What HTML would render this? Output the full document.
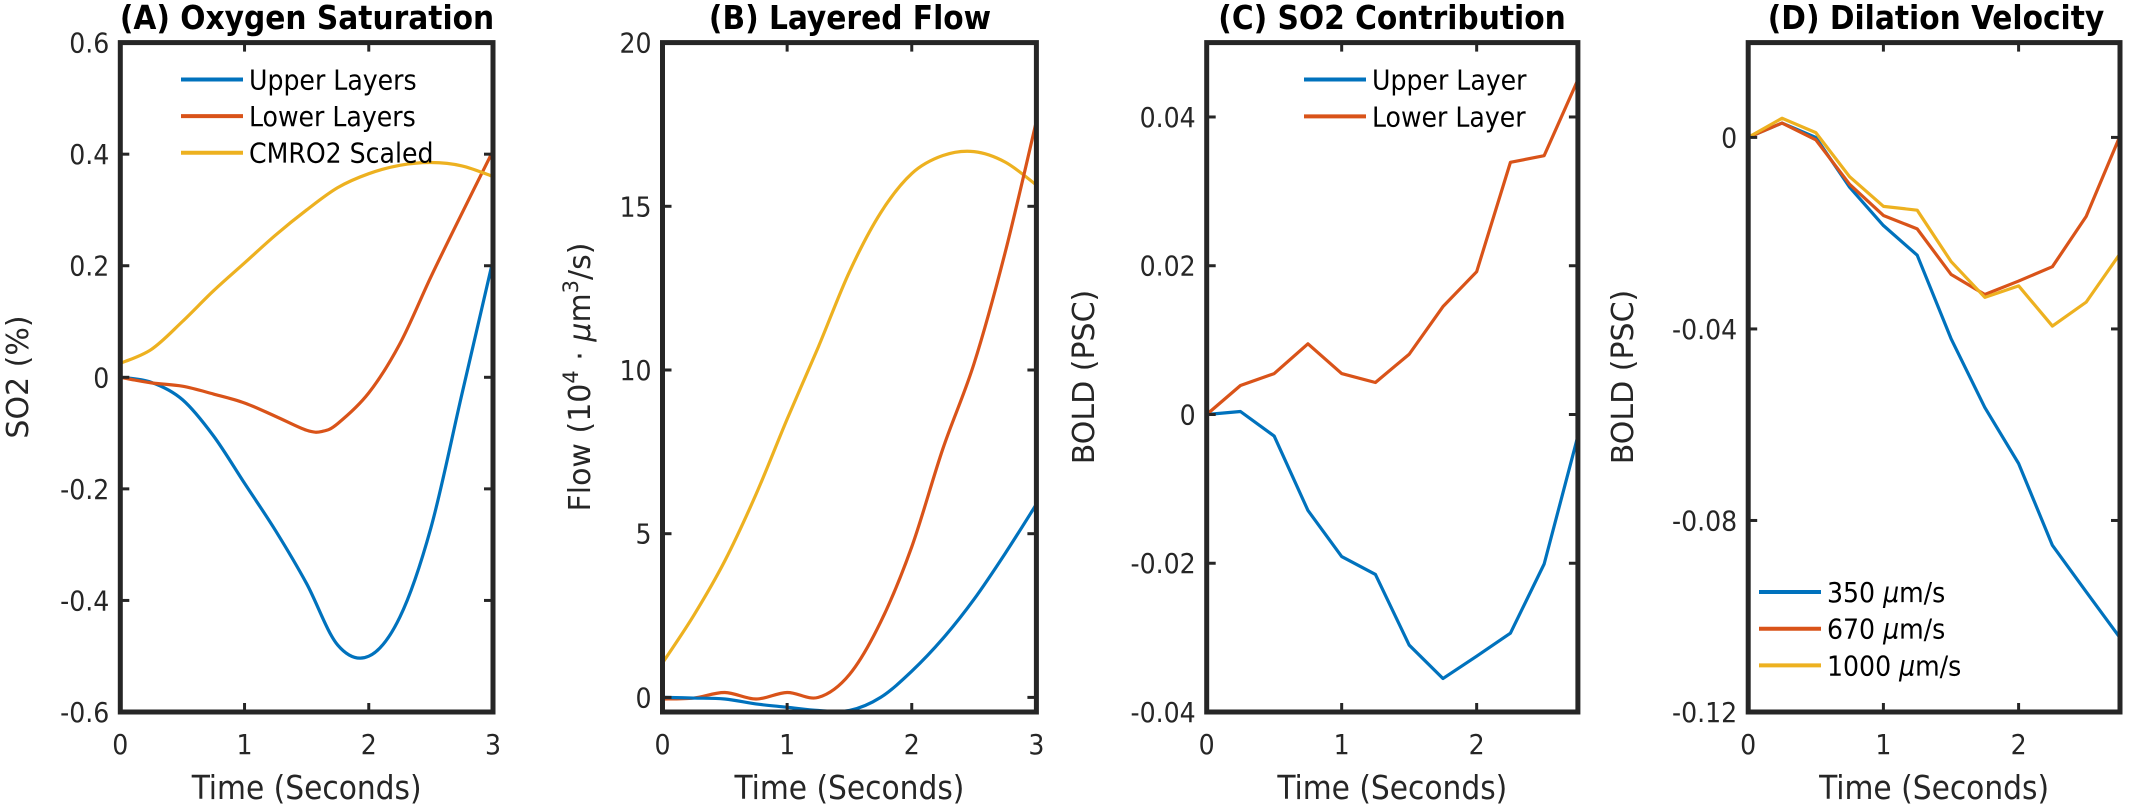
<!DOCTYPE html>
<html><head><meta charset="utf-8"><style>
html,body{margin:0;padding:0;background:#fff;}
svg{display:block;}
.tick{font-family:"DejaVu Sans Condensed","DejaVu Sans","Liberation Sans",sans-serif;font-size:28px;fill:#262626;}
.title{font-family:"DejaVu Sans Condensed","DejaVu Sans","Liberation Sans",sans-serif;font-size:33px;font-weight:bold;fill:#000;}
.xl{font-family:"DejaVu Sans Condensed","DejaVu Sans","Liberation Sans",sans-serif;font-size:33px;fill:#262626;}
.yl{font-family:"DejaVu Sans","Liberation Sans",sans-serif;font-size:30px;fill:#262626;}
.leg{font-family:"DejaVu Sans Condensed","DejaVu Sans","Liberation Sans",sans-serif;font-size:28px;fill:#000;}
</style></head><body>
<svg id="fig" width="2145" height="804" viewBox="0 0 2145 804" xmlns="http://www.w3.org/2000/svg"></svg>
<script>
// Panel A data
const tA = [0,0.25,0.5,0.75,1,1.25,1.5,1.75,2,2.25,2.5,2.75,3];
const aUpper = [0,-0.009,-0.04,-0.105,-0.19,-0.275,-0.37,-0.48,-0.50,-0.43,-0.27,-0.03,0.21];
const tA2 = [0,0.25,0.5,0.75,1,1.25,1.5,1.625,1.75,2,2.25,2.5,2.75,3];
const aLower = [0,-0.01,-0.016,-0.03,-0.046,-0.07,-0.095,-0.097,-0.083,-0.028,0.06,0.18,0.294,0.406];
const tA3 = [0,0.25,0.5,0.75,1,1.25,1.5,1.75,2,2.25,2.5,2.75,3];
const aCmro = [0.025,0.05,0.10,0.155,0.205,0.255,0.30,0.34,0.365,0.38,0.385,0.379,0.36];
const aYTicks = [-0.6,-0.4,-0.2,0,0.2,0.4,0.6];
const aYLabels = ["-0.6","-0.4","-0.2","0","0.2","0.4","0.6"];
// Panel B data
const tB = [0,0.25,0.5,0.75,1,1.25,1.5,1.75,2,2.25,2.5,2.75,3];
const bYellow = [1.05,2.5,4.17,6.2,8.5,10.7,13.0,14.8,16.0,16.55,16.67,16.35,15.65];
const bOrange = [-0.05,-0.02,0.15,-0.05,0.15,0.0,0.7,2.3,4.6,7.6,10.2,13.6,17.6];
const bBlue = [0,-0.02,-0.05,-0.2,-0.3,-0.4,-0.4,0.0,0.8,1.8,3.0,4.4,5.9];
const bYTicks = [0,5,10,15,20];
const bYLabels = ["0","5","10","15","20"];
// Panel C data
const tC = [0,0.25,0.5,0.75,1,1.25,1.5,1.75,2,2.25,2.5,2.75];
const cUpper = [0,0.0004,-0.0029,-0.0129,-0.0191,-0.0215,-0.031,-0.0355,-0.0325,-0.0294,-0.0201,-0.0029];
const cLower = [0,0.0039,0.0055,0.0095,0.0055,0.0043,0.0081,0.0145,0.0192,0.0339,0.0348,0.045];
const cYTicks = [-0.04,-0.02,0,0.02,0.04];
const cYLabels = ["-0.04","-0.02","0","0.02","0.04"];
// Panel D data
const tD = [0,0.25,0.5,0.75,1,1.25,1.5,1.75,2,2.25,2.5,2.75];
const d350 = [0,0.003,0,-0.0104,-0.0184,-0.0246,-0.042,-0.0564,-0.0681,-0.0852,-0.0949,-0.1045];
const d670 = [0,0.003,-0.0005,-0.0098,-0.0163,-0.0191,-0.0286,-0.0328,-0.030,-0.027,-0.0165,0.0003];
const d1000 = [0,0.004,0.001,-0.0082,-0.0144,-0.0152,-0.0259,-0.0334,-0.031,-0.0394,-0.0344,-0.0243];
const dYTicks = [-0.12,-0.08,-0.04,0];
const dYLabels = ["-0.12","-0.08","-0.04","0"];
const xTicks3 = [0,1,2,3];
const xTicks2 = [0,1,2];

const NS = "http://www.w3.org/2000/svg";
const svg = document.getElementById('fig');
const BLUE="#0072BD", RED="#D95319", YEL="#EDB120";
function mk(tag, attrs, parent){ const e=document.createElementNS(NS,tag); for(const k in attrs) e.setAttribute(k,attrs[k]); (parent||svg).appendChild(e); return e; }

function smoothPath(pts){
  let d = "M"+pts[0][0].toFixed(2)+","+pts[0][1].toFixed(2);
  for(let i=0;i<pts.length-1;i++){
    const p0=pts[Math.max(i-1,0)],p1=pts[i],p2=pts[i+1],p3=pts[Math.min(i+2,pts.length-1)];
    const c1=[p1[0]+(p2[0]-p0[0])/6,p1[1]+(p2[1]-p0[1])/6];
    const c2=[p2[0]-(p3[0]-p1[0])/6,p2[1]-(p3[1]-p1[1])/6];
    d+=" C"+c1[0].toFixed(2)+","+c1[1].toFixed(2)+" "+c2[0].toFixed(2)+","+c2[1].toFixed(2)+" "+p2[0].toFixed(2)+","+p2[1].toFixed(2);
  }
  return d;
}

function panel(cfg){
  const g = mk('g',{});
  
  
  const L=cfg.left,R=cfg.right,T=42.6,B=712;
  const sx=v=>L+(v-cfg.xmin)/(cfg.xmax-cfg.xmin)*(R-L);
  const sy=v=>B-(v-cfg.ymin)/(cfg.ymax-cfg.ymin)*(B-T);
  const clipId = cfg.name+"-clip";
  const defs = mk('defs',{},g);
  const cp = mk('clipPath',{id:clipId},defs);
  mk('rect',{x:L,y:T,width:R-L,height:B-T},cp);
  cfg.series.forEach(s=>{
    const pts = s.x.map((xv,i)=>[sx(xv),sy(s.y[i])]);
    const d = cfg.smooth ? smoothPath(pts) : "M"+pts.map(p=>p[0].toFixed(2)+","+p[1].toFixed(2)).join(" L");
    const p = mk('path',{d:d,fill:'none',stroke:s.color,'stroke-width':3.2,'stroke-linejoin':'round','clip-path':'url(#'+clipId+')'},g);
    
    
  });
  cfg.yTicks.forEach((v,i)=>{
    const y=sy(v);
    mk('line',{x1:L,x2:L+9,y1:y,y2:y,stroke:'#262626','stroke-width':3},g);
    mk('line',{x1:R,x2:R-9,y1:y,y2:y,stroke:'#262626','stroke-width':3},g);
    const t=mk('text',{x:L-11,y:y+10,'text-anchor':'end',class:'tick'},g);
    t.textContent=cfg.yLabels[i];
    
    
  });
  cfg.xTicks.forEach(v=>{
    const x=sx(v);
    mk('line',{x1:x,x2:x,y1:B,y2:B-9,stroke:'#262626','stroke-width':3},g);
    mk('line',{x1:x,x2:x,y1:T,y2:T+9,stroke:'#262626','stroke-width':3},g);
    const t=mk('text',{x:x,y:754,'text-anchor':'middle',class:'tick'},g);
    t.textContent=String(v);
    
    
  });
  const box = mk('rect',{x:L,y:T,width:R-L,height:B-T,fill:'none',stroke:'#262626','stroke-width':5},g);
  
  
  const title=mk('text',{x:cfg.titleX,y:29,'text-anchor':'middle',class:'title'},g);
  title.textContent=cfg.title;
  
  
  const xl=mk('text',{x:(L+R)/2,y:799,'text-anchor':'middle',class:'xl'},g);
  xl.textContent="Time (Seconds)";
  
  
  const yl=mk('text',{x:0,y:0,'text-anchor':'middle',class:'yl',transform:'translate('+cfg.ylX+',377) rotate(-90)'},g);
  yl.innerHTML=cfg.ylabel;
  
  
  cfg.legend.forEach((e,i)=>{
    const y=cfg.legY+i*cfg.legDy;
    mk('line',{x1:cfg.legX,x2:cfg.legX+62,y1:y,y2:y,stroke:e.color,'stroke-width':4},g);
    const t=mk('text',{x:cfg.legX+68,y:y+10,class:'leg'},g);
    t.innerHTML=e.label;
    
    
  });
}

panel({name:'panel-a-oxygen-saturation',left:120.3,right:493,xmin:0,xmax:3,ymin:-0.6,ymax:0.6,smooth:true,
  series:[{name:'upper-layers-line',x:tA,y:aUpper,color:BLUE},{name:'lower-layers-line',x:tA2,y:aLower,color:RED},{name:'cmro2-scaled-line',x:tA3,y:aCmro,color:YEL}],
  yTicks:aYTicks,yLabels:aYLabels,xTicks:xTicks3,title:'(A) Oxygen Saturation',titleX:307,ylabel:'SO2 (%)',ylX:28,
  legX:181,legY:79.5,legDy:36.6,legend:[{label:'Upper Layers',color:BLUE},{label:'Lower Layers',color:RED},{label:'CMRO2 Scaled',color:YEL}]});
panel({name:'panel-b-layered-flow',left:662.5,right:1036.4,xmin:0,xmax:3,ymin:-0.446,ymax:20,smooth:true,
  series:[{name:'yellow-flow-line',x:tB,y:bYellow,color:YEL},{name:'lower-flow-line',x:tB,y:bOrange,color:RED},{name:'upper-flow-line',x:tB,y:bBlue,color:BLUE}],
  yTicks:bYTicks,yLabels:bYLabels,xTicks:xTicks3,title:'(B) Layered Flow',titleX:850,
  ylabel:'Flow (10<tspan dy="-12" font-size="21">4</tspan><tspan dy="12"> · </tspan><tspan font-style="italic">μ</tspan>m<tspan dy="-12" font-size="21">3</tspan><tspan dy="12">/s)</tspan>',ylX:590,
  legX:0,legY:0,legDy:0,legend:[]});
panel({name:'panel-c-so2-contribution',left:1206.7,right:1577.9,xmin:0,xmax:2.75,ymin:-0.04,ymax:0.05,smooth:false,
  series:[{name:'upper-layer-line',x:tC,y:cUpper,color:BLUE},{name:'lower-layer-line',x:tC,y:cLower,color:RED}],
  yTicks:cYTicks,yLabels:cYLabels,xTicks:xTicks2,title:'(C) SO2 Contribution',titleX:1392,ylabel:'BOLD (PSC)',ylX:1094,
  legX:1304,legY:79.5,legDy:36.9,legend:[{label:'Upper Layer',color:BLUE},{label:'Lower Layer',color:RED}]});
panel({name:'panel-d-dilation-velocity',left:1748.2,right:2120,xmin:0,xmax:2.75,ymin:-0.12,ymax:0.0198,smooth:false,
  series:[{name:'v350-line',x:tD,y:d350,color:BLUE},{name:'v670-line',x:tD,y:d670,color:RED},{name:'v1000-line',x:tD,y:d1000,color:YEL}],
  yTicks:dYTicks,yLabels:dYLabels,xTicks:xTicks2,title:'(D) Dilation Velocity',titleX:1936,ylabel:'BOLD (PSC)',ylX:1633,
  legX:1759,legY:592,legDy:36.7,legend:[{label:'350 <tspan font-style="italic">μ</tspan>m/s',color:BLUE},{label:'670 <tspan font-style="italic">μ</tspan>m/s',color:RED},{label:'1000 <tspan font-style="italic">μ</tspan>m/s',color:YEL}]});
</script>
</body></html>
